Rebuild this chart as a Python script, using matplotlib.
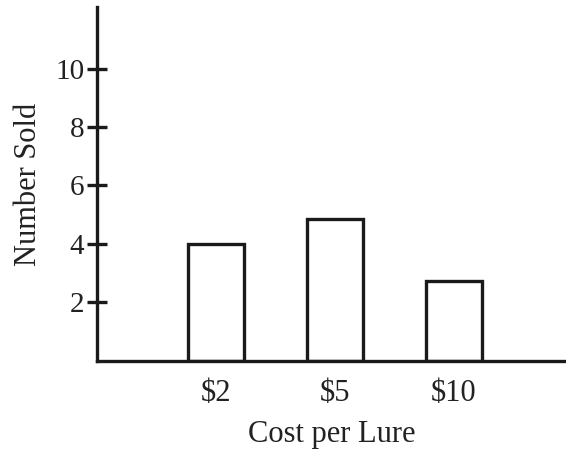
import matplotlib
matplotlib.use('Agg')
import matplotlib.pyplot as plt

# data
costs = ['$2', '$5', '$10']
number_sold = [4.0, 4.85, 2.72]

plt.rcParams['font.family'] = ['Liberation Serif', 'DejaVu Serif']

fig = plt.figure(figsize=(5.66, 4.51), dpi=100)
ax = fig.add_axes([0.171, 0.2, 0.829, 0.784])

pos = list(range(len(costs)))
ax.bar(pos, number_sold, width=0.47, color='white', edgecolor='#1a1a1a',
       linewidth=2.4)

ax.set_xlim(-1.0, 2.94)
ax.set_ylim(0, 12.1)
ax.set_xticks(pos)
ax.set_xticklabels(costs)
ax.set_yticks([2, 4, 6, 8, 10])

# axes look: only left and bottom spines
for s in ['top', 'right']:
    ax.spines[s].set_visible(False)
for s in ['left', 'bottom']:
    ax.spines[s].set_linewidth(2.4)
    ax.spines[s].set_color('#1a1a1a')

ax.tick_params(axis='y', direction='inout', length=14, width=2.4,
               color='#1a1a1a', labelsize=21, pad=2, labelcolor='#222222')
ax.tick_params(axis='x', length=0, labelsize=22, pad=13, labelcolor='#222222')

ax.set_xlabel('Cost per Lure', fontsize=22, color='#222222', labelpad=9)
ax.set_ylabel('Number Sold', fontsize=22, color='#222222', labelpad=9)

fig.savefig('out.png', dpi=100)
